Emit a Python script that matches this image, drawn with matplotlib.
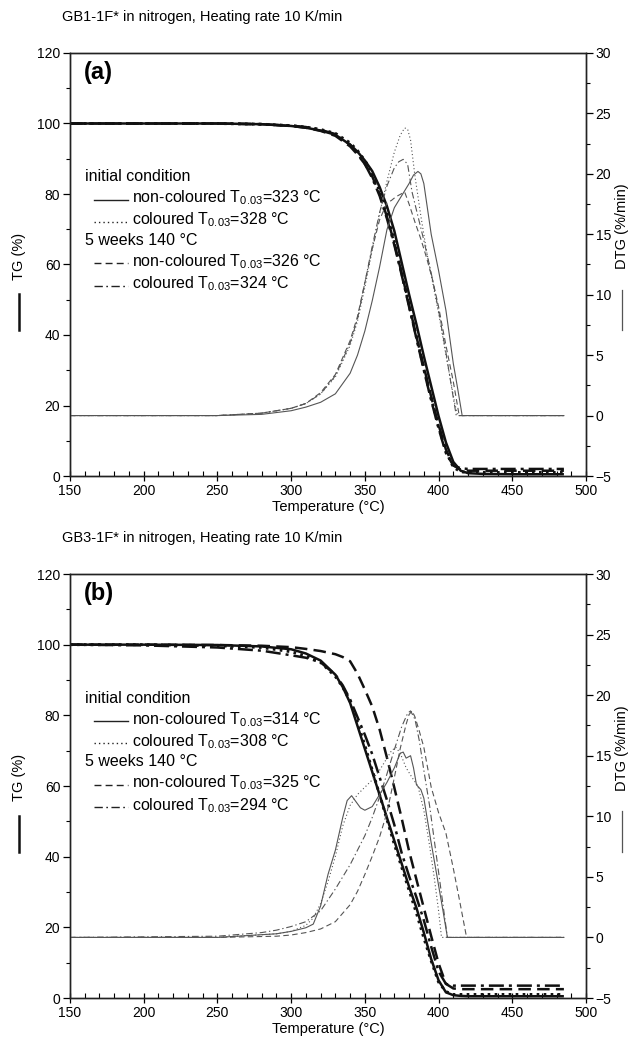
import matplotlib
matplotlib.use('Agg')
import matplotlib.pyplot as plt
from matplotlib.lines import Line2D
from matplotlib.ticker import MultipleLocator

plt.rcParams['font.family'] = ['Liberation Sans', 'DejaVu Sans']
plt.rcParams['mathtext.fontset'] = 'custom'
plt.rcParams['mathtext.rm'] = 'Liberation Sans'
plt.rcParams['mathtext.it'] = 'Liberation Sans:italic'
plt.rcParams['mathtext.bf'] = 'Liberation Sans:bold'

# ---------------- data: panel (a) GB1-1F* ----------------
A_T_TG = [150, 250, 280, 300, 310, 320, 330, 340, 345, 350, 355, 360, 365, 370,
          375, 380, 385, 390, 395, 400, 405, 410, 415, 420, 430, 450, 485]
A_TG_NC_INIT = [100, 100, 99.8, 99.3, 98.8, 98, 96.8, 94, 92, 89.5, 86.5, 82, 76.5, 69.5,
                60.5, 51.5, 43, 34, 25.5, 17, 9.5, 4, 1.5, 0.8, 0.6, 0.5, 0.5]
A_TG_C_INIT = [100, 100, 99.8, 99.4, 99, 98.3, 97.2, 94.5, 92.3, 89.5, 86, 81, 74.5, 66.5,
               57.5, 48.5, 39.5, 30.5, 22, 14, 7, 2.5, 1.2, 1.0, 1.0, 1.0, 1.0]
A_TG_NC_5W = [100, 100, 99.8, 99.3, 98.8, 97.9, 96.5, 93.5, 91.2, 88.5, 85, 80, 73.5, 66,
              57.5, 48.5, 39.5, 31, 22.5, 14.5, 7.5, 3, 1.8, 1.5, 1.5, 1.5, 1.5]
A_TG_C_5W = [100, 100, 99.8, 99.4, 99, 98.2, 97, 94, 91.5, 88.5, 84.5, 79.5, 73, 65.5,
             57, 48, 39, 30, 21.5, 13.5, 6.5, 3, 2.2, 2, 2, 2, 2]

A_T_DTG_NC_INIT = [150, 250, 280, 300, 310, 320, 330, 340, 345, 350, 355, 360, 365, 370,
                   375, 380, 383, 386, 388, 390, 395, 400, 405, 410, 413, 416, 420, 485]
A_DTG_NC_INIT = [0, 0, 0.1, 0.4, 0.7, 1.1, 1.8, 3.5, 5, 7, 9.5, 12.3, 15.4, 17.2,
                 18.2, 19.2, 19.9, 20.2, 20, 19.2, 15, 12, 8.7, 4.3, 2.2, 0, 0, 0]
A_T_DTG_C_INIT = [150, 250, 280, 300, 310, 320, 330, 340, 345, 350, 355, 360, 365, 370,
                  374, 377, 379, 381, 384, 388, 392, 396, 400, 404, 408, 411, 413, 485]
A_DTG_C_INIT = [0, 0, 0.2, 0.6, 1.0, 1.8, 3.2, 5.8, 7.8, 10.6, 13.7, 16.7, 19.4, 21.8,
                23.2, 23.8, 23.7, 22.8, 19.8, 16.5, 13.5, 11, 8.5, 5.7, 3, 1, 0, 0]
A_T_DTG_NC_5W = [150, 250, 280, 300, 310, 320, 330, 340, 345, 350, 355, 360, 365, 368,
                 371, 374, 377, 380, 384, 388, 392, 396, 400, 405, 410, 414, 485]
A_DTG_NC_5W = [0, 0, 0.2, 0.6, 1.0, 1.9, 3.4, 6.2, 8.2, 11, 13.8, 16.2, 17.6, 17.8,
               18.1, 18.3, 18.5, 17.5, 16, 14.6, 13, 11.2, 9, 5.8, 2.8, 0, 0]
A_T_DTG_C_5W = [150, 250, 280, 300, 310, 320, 330, 340, 345, 350, 355, 360, 365, 370,
                373, 376, 379, 382, 385, 390, 395, 400, 405, 409, 412, 485]
A_DTG_C_5W = [0, 0, 0.2, 0.6, 1.0, 1.8, 3.3, 6.0, 8.0, 11, 14, 16.8, 19, 20.5,
              21, 21.2, 20.8, 18.5, 17, 14.5, 11.8, 8.7, 5.2, 2.2, 0, 0]

# ---------------- data: panel (b) GB3-1F* ----------------
B_T_TG = [150, 200, 250, 280, 300, 310, 320, 330, 335, 340, 345, 350, 355, 360, 365,
          370, 375, 380, 385, 390, 395, 400, 405, 410, 415, 420, 430, 450, 485]
B_TG_NC_INIT = [100, 100, 99.9, 99.5, 98.7, 97.5, 95.5, 91.5, 88, 83.5, 77, 70.5, 64, 57.5, 51,
                44.5, 38, 31.5, 25.5, 18.5, 11, 5, 1.6, 0.8, 0.6, 0.5, 0.5, 0.5, 0.5]
B_TG_C_INIT = [100, 100, 99.7, 99.2, 98, 96.8, 95, 91, 88, 84, 78, 71.5, 64.5, 57.5, 50.5,
               43.5, 37, 30.5, 24, 17, 10.5, 4.5, 1.8, 1, 1, 1, 1, 1, 1]
B_TG_NC_5W = [100, 100, 99.9, 99.7, 99.3, 98.8, 98.2, 97.3, 96.5, 95.3, 91.8, 87.3, 82.5, 76, 68,
              59.5, 50.8, 41.6, 33.5, 25.5, 17.5, 9.8, 4, 2.7, 2.5, 2.5, 2.5, 2.5, 2.5]
B_TG_C_5W = [100, 99.8, 99.2, 98.3, 97, 96.3, 95, 91.5, 88.5, 84.5, 79.5, 74.5, 69, 62.5, 56,
             49, 41, 34.5, 28.5, 22, 14.5, 7.5, 4, 3.5, 3.5, 3.5, 3.5, 3.5, 3.5]

B_T_DTG_NC_INIT = [150, 250, 290, 300, 310, 315, 320, 325, 330, 335, 338, 341, 344, 347, 350,
                   355, 360, 365, 370, 374, 376, 378, 381, 383, 385, 388, 390, 395, 400, 403,
                   406, 485]
B_DTG_NC_INIT = [0, 0, 0.3, 0.5, 0.8, 1.1, 2.6, 5.2, 7.2, 9.9, 11.3, 11.7, 11.2, 10.7, 10.5,
                 10.8, 11.8, 12.8, 14, 15.2, 15.3, 14.8, 15, 14, 12.6, 12.2, 11.5, 7.8, 4.3, 2.2,
                 0, 0]
B_T_DTG_C_INIT = [150, 250, 290, 300, 310, 315, 320, 325, 330, 335, 340, 345, 350, 355, 360,
                  365, 368, 371, 374, 378, 382, 386, 390, 394, 397, 400, 402, 485]
B_DTG_C_INIT = [0, 0, 0.3, 0.5, 1.0, 1.6, 2.8, 4.6, 6.7, 9.2, 10.9, 11.8, 12.4, 13, 13.8,
                14.8, 15.4, 15.7, 15.2, 14, 13.2, 12.5, 10.5, 7.5, 5, 2.2, 0, 0]
B_T_DTG_NC_5W = [150, 250, 290, 300, 310, 320, 330, 340, 345, 350, 355, 360, 365, 370, 374,
                 378, 380, 382, 384, 387, 390, 395, 400, 405, 410, 414, 419, 485]
B_DTG_NC_5W = [0, 0, 0.1, 0.2, 0.4, 0.7, 1.3, 2.7, 3.8, 5.2, 6.7, 8.3, 10.3, 13.2, 15.6,
               17.6, 18.4, 18.7, 18.2, 17, 15.7, 12.4, 10.3, 8.6, 5.7, 3.2, 0, 0]
B_T_DTG_C_5W = [150, 250, 280, 290, 300, 310, 320, 330, 340, 350, 355, 360, 365, 370, 375,
                379, 381, 384, 387, 390, 394, 398, 402, 406, 485]
B_DTG_C_5W = [0, 0.1, 0.4, 0.6, 0.9, 1.3, 2.2, 4.0, 6.0, 8.4, 9.9, 11.6, 13.5, 15.5, 17.4,
              18.5, 18.7, 18, 16.2, 13.8, 10.8, 7.2, 3.6, 0, 0]

TITLES = ["GB1-1F* in nitrogen, Heating rate 10 K/min",
          "GB3-1F* in nitrogen, Heating rate 10 K/min"]
PANEL_TAGS = ["(a)", "(b)"]
T003_A = [323, 328, 326, 324]
T003_B = [314, 308, 325, 294]

# ---------------- styles ----------------
STY_TG = {'solid': '-', 'dot': (0, (0.9, 1.5)), 'dash': (0, (5, 2.5)),
          'dashdot': (0, (6, 2, 1.2, 2))}
STY_DTG = {'solid': '-', 'dot': (0, (1, 2.2)), 'dash': (0, (5, 3)),
           'dashdot': (0, (6, 2.5, 1.2, 2.5))}
TG_COLOR = '#111111'
DTG_COLOR = '#555555'

fig = plt.figure(figsize=(6.39, 10.38), dpi=100)
W, H = 639.0, 1038.0


def make_axes(top_px, bottom_px):
    left, right = 70, 586
    return fig.add_axes([left / W, 1 - bottom_px / H, (right - left) / W,
                         (bottom_px - top_px) / H])


def panel(ax, tg_T, tgs, dtg_sets, title, tag, t003):
    ax2 = ax.twinx()
    keys = ['solid', 'dot', 'dash', 'dashdot']
    for k, y in zip(keys, tgs):
        ax.plot(tg_T, y, color=TG_COLOR, lw=1.8 if k != 'dot' else 2.1,
                linestyle=STY_TG[k], solid_capstyle='butt')
    for k, (tt, y) in zip(keys, dtg_sets):
        ax2.plot(tt, y, color=DTG_COLOR, lw=0.8, linestyle=STY_DTG[k])

    ax.set_xlim(150, 500)
    ax.set_ylim(0, 120)
    ax2.set_ylim(-5, 30)
    ax.xaxis.set_major_locator(MultipleLocator(50))
    ax.xaxis.set_minor_locator(MultipleLocator(10))
    ax.yaxis.set_major_locator(MultipleLocator(20))
    ax.yaxis.set_minor_locator(MultipleLocator(10))
    ax2.yaxis.set_major_locator(MultipleLocator(5))
    ax2.yaxis.set_minor_locator(MultipleLocator(2.5))
    ax.tick_params(axis='x', which='major', direction='inout', length=7, width=0.9,
                   labelsize=10, pad=2)
    ax.tick_params(axis='x', which='minor', direction='in', length=3.5, width=0.8)
    ax.tick_params(axis='y', which='major', direction='out', length=5, width=0.9,
                   labelsize=10, pad=2)
    ax.tick_params(axis='y', which='minor', direction='out', length=3, width=0.8)
    ax2.tick_params(axis='y', which='major', direction='out', length=5, width=0.9,
                    labelsize=10, pad=2)
    ax2.tick_params(axis='y', which='minor', direction='out', length=3, width=0.8)
    for a in (ax, ax2):
        for s in a.spines.values():
            s.set_linewidth(1.0)
            s.set_color('#222222')
    ax.set_xlabel('Temperature (°C)', fontsize=10.5, labelpad=2)

    ax.text(-0.016, 1.085, title, transform=ax.transAxes, fontsize=10.5,
            ha='left', va='center')
    ax.text(0.027, 0.955, tag, transform=ax.transAxes, fontsize=17,
            fontweight='bold', ha='left', va='center')

    # y-axis labels with line keys
    ax.text(-0.098, 0.52, 'TG (%)', transform=ax.transAxes, rotation=90,
            fontsize=10.5, ha='center', va='center')
    ax.add_line(Line2D([-0.098, -0.098], [0.345, 0.43], transform=ax.transAxes,
                       color=TG_COLOR, lw=1.8, clip_on=False))
    ax.text(1.07, 0.59, 'DTG (%/min)', transform=ax.transAxes, rotation=90,
            fontsize=10.5, ha='center', va='center')
    ax.add_line(Line2D([1.07, 1.07], [0.345, 0.44], transform=ax.transAxes,
                       color=DTG_COLOR, lw=0.9, clip_on=False))

    # legend made of text + line keys
    rows_y = [0.707, 0.657, 0.605, 0.557, 0.507, 0.454]
    fs = 11.5
    ax.text(0.029, rows_y[0], 'initial condition', transform=ax.transAxes,
            fontsize=fs, ha='left', va='center')
    ax.text(0.029, rows_y[3], '5 weeks 140 °C', transform=ax.transAxes,
            fontsize=fs, ha='left', va='center')
    entries = [(rows_y[1], 'solid', 'non-coloured', t003[0]),
               (rows_y[2], 'dot', 'coloured', t003[1]),
               (rows_y[4], 'dash', 'non-coloured', t003[2]),
               (rows_y[5], 'dashdot', 'coloured', t003[3])]
    for yv, k, name, tv in entries:
        ax.add_line(Line2D([0.046, 0.112], [yv - 0.004] * 2, transform=ax.transAxes,
                           color='#222222', lw=1.0, linestyle=STY_DTG[k]))
        ax.text(0.12, yv, name + r' T$_{\mathrm{0.03}}$' + '=%d °C' % tv,
                transform=ax.transAxes, fontsize=fs, ha='left', va='center')
    return ax2


axA = make_axes(53, 476)
panel(axA, A_T_TG, [A_TG_NC_INIT, A_TG_C_INIT, A_TG_NC_5W, A_TG_C_5W],
      [(A_T_DTG_NC_INIT, A_DTG_NC_INIT), (A_T_DTG_C_INIT, A_DTG_C_INIT),
       (A_T_DTG_NC_5W, A_DTG_NC_5W), (A_T_DTG_C_5W, A_DTG_C_5W)],
      TITLES[0], PANEL_TAGS[0], T003_A)

axB = make_axes(574, 998)
panel(axB, B_T_TG, [B_TG_NC_INIT, B_TG_C_INIT, B_TG_NC_5W, B_TG_C_5W],
      [(B_T_DTG_NC_INIT, B_DTG_NC_INIT), (B_T_DTG_C_INIT, B_DTG_C_INIT),
       (B_T_DTG_NC_5W, B_DTG_NC_5W), (B_T_DTG_C_5W, B_DTG_C_5W)],
      TITLES[1], PANEL_TAGS[1], T003_B)

fig.savefig('out.png', dpi=100)
